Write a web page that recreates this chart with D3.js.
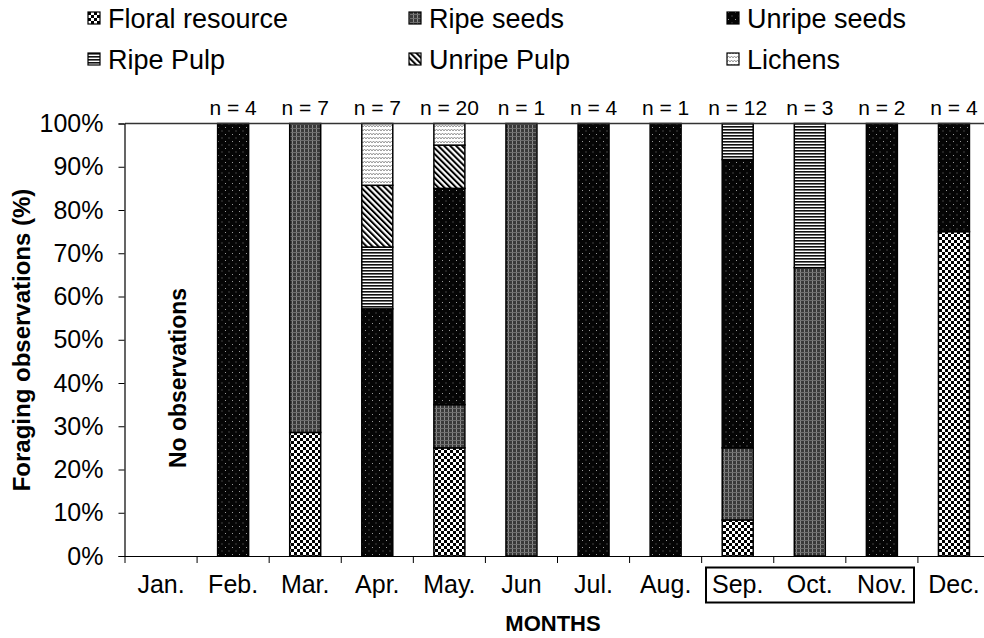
<!DOCTYPE html>
<html>
<head>
<meta charset="utf-8">
<script src="https://cdn.jsdelivr.net/npm/d3@7"></script>
<style>
  body { margin: 0; background: #fff; }
  svg { display: block; font-family: "Liberation Sans", Arial, sans-serif; }
</style>
</head>
<body>
<svg id="chart" width="984" height="638"></svg>
<script>
// months and sample sizes
const months = ["Jan.", "Feb.", "Mar.", "Apr.", "May.", "Jun", "Jul.", "Aug.", "Sep.", "Oct.", "Nov.", "Dec."];
const nObs = [null, 4, 7, 7, 20, 1, 4, 1, 12, 3, 2, 4];

// foraging observations per item (counts, stacked bottom -> top)
const floral      = [0, 0, 2, 0, 5, 0, 0, 0, 1, 0, 0, 3];
const ripeSeeds   = [0, 0, 5, 0, 2, 1, 0, 0, 2, 2, 0, 0];
const unripeSeeds = [0, 4, 0, 4, 10, 0, 4, 1, 8, 0, 2, 1];
const ripePulp    = [0, 0, 0, 1, 0, 0, 0, 0, 1, 1, 0, 0];
const unripePulp  = [0, 0, 0, 1, 2, 0, 0, 0, 0, 0, 0, 0];
const lichens     = [0, 0, 0, 1, 1, 0, 0, 0, 0, 0, 0, 0];

const seriesKeys = ["floral", "ripeSeeds", "unripeSeeds", "ripePulp", "unripePulp", "lichens"];
const seriesNames = ["Floral resource", "Ripe seeds", "Unripe seeds", "Ripe Pulp", "Unripe Pulp", "Lichens"];
const yTicks = [0, 0.1, 0.2, 0.3, 0.4, 0.5, 0.6, 0.7, 0.8, 0.9, 1];

const table = months.map((m, i) => ({
  month: m,
  floral: floral[i], ripeSeeds: ripeSeeds[i], unripeSeeds: unripeSeeds[i],
  ripePulp: ripePulp[i], unripePulp: unripePulp[i], lichens: lichens[i]
}));

const svg = d3.select("#chart");
const defs = svg.append("defs");

// fill patterns (black & white print style)
function pat(id, w, h) {
  return defs.append("pattern").attr("id", id)
    .attr("patternUnits", "userSpaceOnUse").attr("width", w).attr("height", h);
}
// floral: checkerboard
let p = pat("p-floral", 6, 6);
p.append("rect").attr("width", 6).attr("height", 6).attr("fill", "#fff");
p.append("rect").attr("width", 3).attr("height", 3).attr("fill", "#000");
p.append("rect").attr("x", 3).attr("y", 3).attr("width", 3).attr("height", 3).attr("fill", "#000");
// ripe seeds: dark grey grid
p = pat("p-ripeSeeds", 4, 4);
p.append("rect").attr("width", 4).attr("height", 4).attr("fill", "#3a3a3a");
p.append("rect").attr("width", 1).attr("height", 4).attr("fill", "#8a8a8a");
p.append("rect").attr("width", 4).attr("height", 1).attr("fill", "#6e6e6e");
// unripe seeds: black with sparse grey dots
p = pat("p-unripeSeeds", 7, 7);
p.append("rect").attr("width", 7).attr("height", 7).attr("fill", "#050505");
p.append("rect").attr("x", 1).attr("y", 1).attr("width", 1).attr("height", 1).attr("fill", "#9a9a9a");
p.append("rect").attr("x", 4.5).attr("y", 4.5).attr("width", 1).attr("height", 1).attr("fill", "#7a7a7a");
// ripe pulp: horizontal lines
p = pat("p-ripePulp", 6, 3);
p.append("rect").attr("width", 6).attr("height", 3).attr("fill", "#fff");
p.append("rect").attr("width", 6).attr("height", 1.6).attr("fill", "#111");
// unripe pulp: diagonal stripes
p = pat("p-unripePulp", 4.2, 4.2).attr("patternTransform", "rotate(-45)");
p.append("rect").attr("width", 4.2).attr("height", 4.2).attr("fill", "#fff");
p.append("rect").attr("width", 2).attr("height", 4.2).attr("fill", "#000");
// lichens: light grey zigzag
p = pat("p-lichens", 6, 4);
p.append("rect").attr("width", 6).attr("height", 4).attr("fill", "#fff");
p.append("path").attr("d", "M0,3 L1.5,1 L3,3 L4.5,1 L6,3")
  .attr("fill", "none").attr("stroke", "#8c8c8c").attr("stroke-width", 0.9);

const plotLeft = 125, plotRight = 990, plotTop = 123.5, plotBottom = 556;

const x = d3.scaleBand().domain(months).range([plotLeft, plotRight]).paddingInner(0.57).paddingOuter(0.285);
const xEdge = d3.scaleBand().domain(months).range([plotLeft, plotRight]);
const y = d3.scaleLinear().domain([0, 1]).range([plotBottom, plotTop]);

const stack = d3.stack().keys(seriesKeys).offset(d3.stackOffsetExpand);
const layers = stack(table);

// bars
svg.append("g").selectAll("g")
  .data(layers)
  .join("g")
  .attr("fill", d => `url(#p-${d.key})`)
  .selectAll("rect")
  .data(d => d.filter(s => s[1] - s[0] > 0))
  .join("rect")
  .attr("x", d => x(d.data.month))
  .attr("width", x.bandwidth())
  .attr("y", d => y(d[1]))
  .attr("height", d => y(d[0]) - y(d[1]))
  .attr("stroke", "#000")
  .attr("stroke-width", 1.5);

// top frame line
svg.append("line")
  .attr("x1", plotLeft).attr("x2", plotRight).attr("y1", plotTop).attr("y2", plotTop)
  .attr("stroke", "#333").attr("stroke-width", 1.5);

// y axis
const yAxis = svg.append("g")
  .attr("transform", `translate(${plotLeft - 0.5},0)`)
  .call(d3.axisLeft(y).tickValues(yTicks).tickFormat(d3.format(".0%")).tickSize(6).tickPadding(15));
yAxis.select(".domain").attr("stroke", "#000").attr("stroke-width", 1.2);
yAxis.selectAll(".tick line").attr("stroke", "#000");
yAxis.selectAll("text").attr("font-size", 25).attr("fill", "#000").attr("font-family", "Liberation Sans, Arial, sans-serif");

// x axis: line, ticks at band edges, labels at centres
const xg = svg.append("g");
xg.append("line").attr("x1", plotLeft - 0.5).attr("x2", plotRight).attr("y1", plotBottom + 0.5).attr("y2", plotBottom + 0.5)
  .attr("stroke", "#000").attr("stroke-width", 1.2);
xg.selectAll("line.tk")
  .data(months)
  .join("line").attr("class", "tk")
  .attr("x1", d => xEdge(d)).attr("x2", d => xEdge(d))
  .attr("y1", plotBottom).attr("y2", plotBottom + 7)
  .attr("stroke", "#000");
xg.selectAll("text")
  .data(months)
  .join("text")
  .attr("x", d => x(d) + x.bandwidth() / 2)
  .attr("y", 593)
  .attr("text-anchor", "middle")
  .attr("font-size", 25)
  .text(d => d);

// box around Sep.-Nov.
svg.append("rect")
  .attr("x", 706).attr("y", 567.5).attr("width", 208).attr("height", 35)
  .attr("fill", "none").attr("stroke", "#000").attr("stroke-width", 2);

// n labels
svg.append("g").selectAll("text")
  .data(months.map((m, i) => ({ m, n: nObs[i] })).filter(d => d.n !== null))
  .join("text")
  .attr("x", d => x(d.m) + x.bandwidth() / 2)
  .attr("y", 115)
  .attr("text-anchor", "middle")
  .attr("font-size", 21)
  .text(d => `n = ${d.n}`);

// "No observations" for January
svg.append("text")
  .attr("transform", `translate(${x("Jan.") + x.bandwidth() / 2 + 25},378) rotate(-90)`)
  .attr("text-anchor", "middle")
  .attr("font-size", 23)
  .attr("font-weight", "bold")
  .text("No observations");

// axis titles
svg.append("text")
  .attr("transform", "translate(30,340) rotate(-90)")
  .attr("text-anchor", "middle")
  .attr("font-size", 24)
  .attr("font-weight", "bold")
  .text("Foraging observations (%)");

svg.append("text")
  .attr("x", 553).attr("y", 631)
  .attr("text-anchor", "middle")
  .attr("font-size", 22)
  .attr("font-weight", "bold")
  .text("MONTHS");

// legend
const legX = [88, 409, 727];
const legY = [18, 59];
const leg = svg.append("g").selectAll("g")
  .data(seriesKeys)
  .join("g")
  .attr("transform", (d, i) => `translate(${legX[i % 3]},${legY[Math.floor(i / 3)]})`);
leg.append("rect")
  .attr("x", 0).attr("y", -6).attr("width", 12).attr("height", 12)
  .attr("fill", d => `url(#p-${d})`)
  .attr("stroke", "#000").attr("stroke-width", 1.2);
leg.append("text")
  .attr("x", 20).attr("y", 10)
  .attr("font-size", 27)
  .text((d, i) => seriesNames[i]);
</script>
</body>
</html>
